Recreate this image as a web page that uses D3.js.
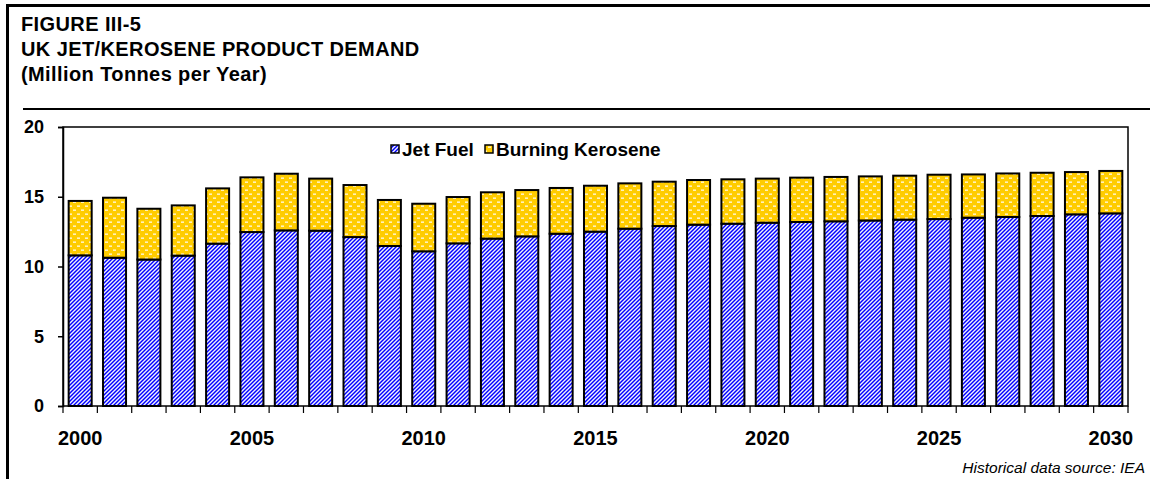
<html>
<head>
<meta charset="utf-8">
<title>UK Jet/Kerosene Product Demand</title>
<script src="https://d3js.org/d3.v7.min.js"></script>
<style>
body { margin: 0; background: #fff; font-family: Arial, 'Liberation Sans', sans-serif; }
</style>
</head>
<body>
<svg id="svg" width="1150" height="479"></svg>
<script>
// data (million tonnes per year)
const years = d3.range(2000, 2031);
const jetFuel = [10.8, 10.63, 10.5, 10.78, 11.64, 12.47, 12.59, 12.57, 12.11, 11.47, 11.09,
  11.66, 12.0, 12.16, 12.35, 12.5, 12.71, 12.9, 13.0, 13.07, 13.14,
  13.19, 13.24, 13.3, 13.36, 13.4, 13.5, 13.55, 13.62, 13.74, 13.81];
const kerosene = [3.9, 4.3, 3.64, 3.6, 3.96, 3.92, 4.06, 3.73, 3.73, 3.3, 3.41,
  3.32, 3.32, 3.32, 3.28, 3.29, 3.25, 3.18, 3.2, 3.18, 3.16,
  3.18, 3.18, 3.16, 3.15, 3.18, 3.1, 3.12, 3.1, 3.03, 3.04];
const seriesNames = ["Jet Fuel", "Burning Kerosene"];
const yTicks = [0, 5, 10, 15, 20];
const xLabels = [2000, 2005, 2010, 2015, 2020, 2025, 2030];

const svg = d3.select("#svg");
const plot = { left: 63, right: 1128, top: 127, bottom: 406 };

// patterns (excel style: wide upward diagonal / small dashes)
const defs = svg.append("defs");
const stripes = defs.append("pattern")
  .attr("id", "jet")
  .attr("patternUnits", "userSpaceOnUse")
  .attr("width", 4).attr("height", 4);
stripes.append("rect").attr("width", 4).attr("height", 4).attr("fill", "#0000ff");
stripes.append("path")
  .attr("d", "M0,0 H2 L0,2 Z M4,0 V2 L2,4 H0 Z")
  .attr("fill", "#f2f2ff");

const dots = defs.append("pattern")
  .attr("id", "kero")
  .attr("patternUnits", "userSpaceOnUse")
  .attr("width", 8).attr("height", 8);
dots.append("rect").attr("width", 8).attr("height", 8).attr("fill", "#ffcc00");
dots.append("rect").attr("x", 1).attr("y", 1.5).attr("width", 3).attr("height", 1.3).attr("fill", "#fffbe8");
dots.append("rect").attr("x", 5).attr("y", 5.5).attr("width", 3).attr("height", 1.3).attr("fill", "#fffbe8");
const fills = ["url(#jet)", "url(#kero)"];

// outer frame and title
svg.append("path")
  .attr("d", "M7.5,479 V5.5 H1150")
  .attr("fill", "none").attr("stroke", "#000").attr("stroke-width", 3);
svg.append("line")
  .attr("x1", 23).attr("x2", 1150).attr("y1", 109).attr("y2", 109)
  .attr("stroke", "#000").attr("stroke-width", 2);

const titleLines = ["FIGURE III-5", "UK JET/KEROSENE PRODUCT DEMAND", "(Million Tonnes per Year)"];
svg.selectAll(".title").data(titleLines).join("text")
  .attr("class", "title")
  .attr("x", 21).attr("y", (d, i) => 31 + i * 25)
  .attr("font-size", "20px").attr("font-weight", "bold")
  .attr("letter-spacing", "0.4px")
  .text(d => d);

// scales
const x = d3.scaleBand().domain(years).range([plot.left, plot.right]).paddingInner(0.33).paddingOuter(0.165);
const y = d3.scaleLinear().domain([0, 20]).range([plot.bottom, plot.top]);

// stacked data
const rows = years.map((yr, i) => ({ year: yr, jet: jetFuel[i], kero: kerosene[i] }));
const stack = d3.stack().keys(["jet", "kero"])(rows);

const g = svg.append("g");
stack.forEach((layer, li) => {
  g.selectAll(".bar" + li).data(layer).join("rect")
    .attr("class", "bar" + li)
    .attr("x", d => x(d.data.year))
    .attr("width", x.bandwidth())
    .attr("y", d => y(d[1]))
    .attr("height", d => y(d[0]) - y(d[1]))
    .attr("fill", fills[li])
    .attr("stroke", "#000").attr("stroke-width", 2);
});

// plot frame
svg.append("rect")
  .attr("x", plot.left).attr("y", plot.top)
  .attr("width", plot.right - plot.left).attr("height", plot.bottom - plot.top)
  .attr("fill", "none").attr("stroke", "#000").attr("stroke-width", 1.5);

// y axis
const yAxis = svg.append("g").attr("transform", `translate(${plot.left},0)`)
  .call(d3.axisLeft(y).tickValues(yTicks).tickSize(5).tickPadding(14).tickFormat(d3.format("d")));
yAxis.select(".domain").attr("stroke-width", 1.5);
yAxis.selectAll("line").attr("stroke-width", 1.5);
yAxis.selectAll("text").attr("font-size", "18px").attr("font-weight", "bold")
  .attr("font-family", "Arial, 'Liberation Sans', sans-serif").attr("fill", "#000");

// x axis: ticks on category edges, labels every 5 years
const step = x.step();
const edges = d3.range(years.length + 1).map(i => plot.left + i * step);
const xAxis = svg.append("g");
xAxis.selectAll("line").data(edges).join("line")
  .attr("x1", d => d).attr("x2", d => d)
  .attr("y1", plot.bottom).attr("y2", plot.bottom + 7)
  .attr("stroke", "#000").attr("stroke-width", 1.2);
xAxis.selectAll("text").data(xLabels).join("text")
  .attr("x", d => x(d) + x.bandwidth() / 2)
  .attr("y", 445)
  .attr("text-anchor", "middle")
  .attr("font-size", "20px").attr("font-weight", "bold")
  .text(d => d);

// legend
const legend = svg.append("g").attr("transform", "translate(391,145)");
const legendX = [0, 94];
seriesNames.forEach((name, i) => {
  legend.append("rect")
    .attr("x", legendX[i]).attr("y", 0).attr("width", 8).attr("height", 8)
    .attr("fill", fills[i]).attr("stroke", "#000").attr("stroke-width", 1.5);
  legend.append("text")
    .attr("x", legendX[i] + 11).attr("y", 10.5)
    .attr("font-size", "19px").attr("font-weight", "bold")
    .text(name);
});

// source note
svg.append("text")
  .attr("x", 1145).attr("y", 473)
  .attr("text-anchor", "end")
  .attr("font-size", "15.5px").attr("font-style", "italic")
  .text("Historical data source: IEA");
</script>
</body>
</html>
